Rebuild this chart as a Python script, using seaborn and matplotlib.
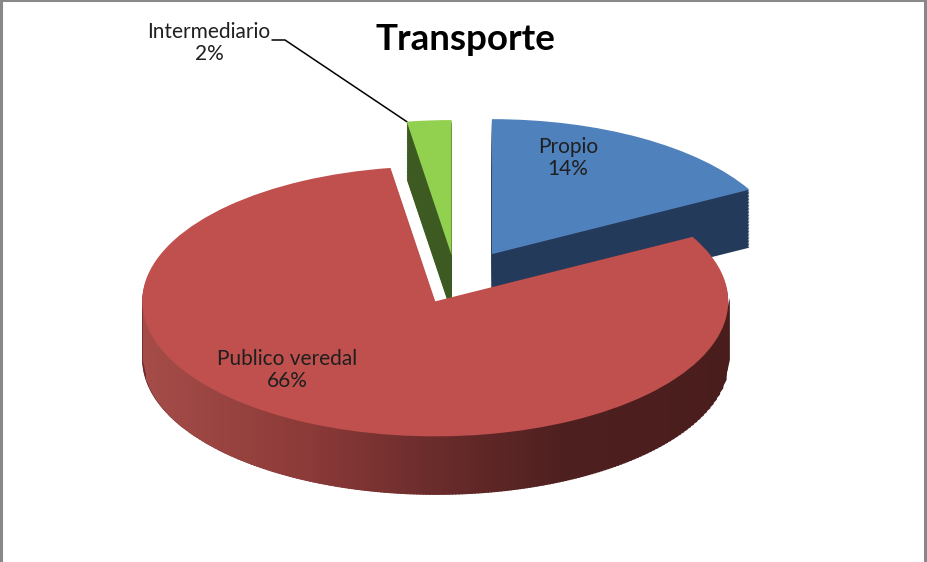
import numpy as np
import matplotlib
matplotlib.use("Agg")
import matplotlib.pyplot as plt
import seaborn as sns
from matplotlib.colors import LinearSegmentedColormap
from matplotlib.lines import Line2D

# data
categories = ["Propio", "Publico veredal", "Intermediario"]
percent = [14, 66, 2]
explode = [0.24, 0.16, 0.2]
top_colors = ["#4f81bd", "#c0504d", "#92d050"]
wall_colors = ["#243a5a", "#6a2b2b", "#3c5a22"]

W, H = 927, 562
CX, CY = 456, 282      # pie centre in pixels
RX, RY = 293, 135      # ellipse radii in pixels
DEPTH = 58             # thickness of the 3d wall in pixels
N_LAYERS = 40

sns.set_theme(style="white")
plt.rcParams['font.family'] = ['Lato', 'DejaVu Sans']

fig = plt.figure(figsize=(W / 100, H / 100), dpi=100)
ax = fig.add_axes([0, 0, 1, 1])

depth = DEPTH / RY
dz = depth / N_LAYERS

# stacked layers give the side wall
z = 1
for k in range(N_LAYERS, 0, -1):
    ax.pie(percent, explode=explode, colors=wall_colors,
           startangle=90, counterclock=False, center=(0, -k * dz),
           wedgeprops=dict(linewidth=0, zorder=z))
    z += 1

# top face
wedges, _ = ax.pie(percent, explode=explode, colors=top_colors,
                   startangle=90, counterclock=False,
                   wedgeprops=dict(linewidth=0, zorder=z + 5))

# shaded front wall of the big red slice (light on the left, dark on the right)
red_wall = LinearSegmentedColormap.from_list(
    "redwall", [(0, "#a54c48"), (0.28, "#8b3a38"), (0.5, "#6a2b2b"),
                (0.72, "#4e1f1f"), (1, "#4a1d1d")])
w = wedges[1]
u = np.linspace(-1, 1, 181)
xs = w.center[0] + w.r * u
top = w.center[1] - w.r * np.sqrt(np.clip(1 - u ** 2, 0, None))
bot = top - depth
eps = 0.004
for i in range(len(u) - 1):
    ax.fill_between([xs[i], xs[i + 1] + eps], [bot[i], bot[i + 1]],
                    [top[i] + 0.03, top[i + 1] + 0.03],
                    color=red_wall((u[i] + 1) / 2), lw=0, zorder=z + 1)

ax.set_aspect('auto')
ax.set_xlim(-CX / RX, (W - CX) / RX)
ax.set_ylim((CY - H) / RY, CY / RY)
ax.axis('off')

txt = dict(color="#1f1f1f", fontsize=15, ha='center', va='center',
           linespacing=1.15, zorder=100)
labels = [f"{c}\n{p}%" for c, p in zip(categories, percent)]
fig.text(568 / W, 1 - 158 / H, labels[0], **txt)
fig.text(287 / W, 1 - 370 / H, labels[1], **txt)
fig.text(209 / W, 1 - 43 / H, labels[2], **txt)

# leader line to the small green slice
g = wedges[2]
theta = np.deg2rad(max(g.theta1, g.theta2))
gx = g.center[0] + g.r * np.cos(theta)
gy = g.center[1] + g.r * np.sin(theta)
lx0, ly0 = (272 - CX) / RX, (CY - 40) / RY
lx1 = (285 - CX) / RX
ax.plot([lx0, lx1, gx], [ly0, ly0, gy], color="black", lw=1.1, zorder=50)

fig.text(465 / W, 1 - 40 / H, "Transporte", fontsize=26.5, fontweight='bold',
         color="black", ha='center', va='center')

# chart frame
for xs_, ys_ in [([0, 1], [1, 1]), ([0.0015, 0.0015], [0, 1]), ([0.998, 0.998], [0, 1])]:
    fig.add_artist(Line2D(xs_, ys_, color="#888888", lw=2.2, transform=fig.transFigure))

fig.savefig("out.png", dpi=100, facecolor="white")
